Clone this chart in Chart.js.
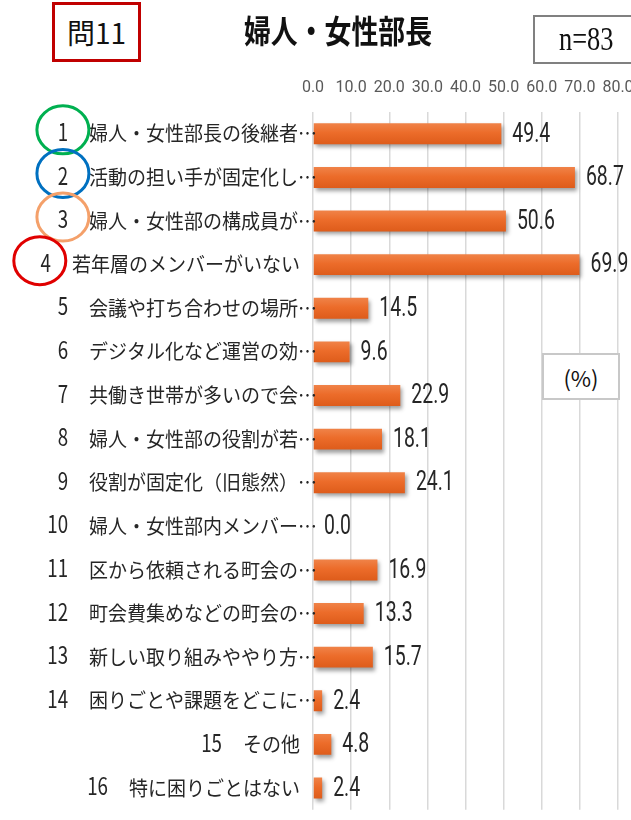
<!DOCTYPE html>
<html lang="ja">
<head>
<meta charset="utf-8">
<title>婦人・女性部長</title>
<script src="https://cdn.jsdelivr.net/npm/chart.js@4.4.1/dist/chart.umd.min.js"></script>
<style>
  html, body { margin: 0; padding: 0; background: #fff; overflow: hidden; }
  #wrap { position: relative; width: 631px; height: 820px; overflow: hidden; }
  #chart { position: absolute; left: 0; top: 0; }
  .box { position: absolute; box-sizing: border-box; background: #fff; display: flex; align-items: center; justify-content: center; color: #111; }
  #qno { left: 52px; top: 2px; width: 89px; height: 60px; border: 3px solid #c00000; font: 28px "Noto Sans CJK JP"; }
  #ttl { position: absolute; left: 208px; top: 6px; width: 260px; text-align: center; white-space: nowrap; font: bold 32px "Noto Sans CJK JP"; color: #111; transform: scaleX(0.84); }
  #num { left: 533px; top: 15px; width: 106px; height: 49px; border: 2px solid #808080; font: 33px "Liberation Serif"; justify-content: flex-start; padding-left: 24px; }
  #num span { display: inline-block; transform: scaleX(0.8); transform-origin: left center; }
  #pct { left: 542px; top: 353px; width: 78px; height: 47px; border: 2px solid #c8c8c8; font: 22px "Noto Sans CJK JP"; }
</style>
</head>
<body>
<div id="wrap">
  <canvas id="chart" width="631" height="820"></canvas>
  <div class="box" id="qno">問11</div>
  <div id="ttl">婦人・女性部長</div>
  <div class="box" id="num"><span>n=83</span></div>
  <div class="box" id="pct">(%)</div>
</div>
<script>
const itemNumbers = ["1", "2", "3", "4", "5", "6", "7", "8", "9", "10", "11", "12", "13", "14", "15", "16"];
const itemTexts = [
    "婦人・女性部長の後継者…",
    "活動の担い手が固定化し…",
    "婦人・女性部の構成員が…",
    "若年層のメンバーがいない",
    "会議や打ち合わせの場所…",
    "デジタル化など運営の効…",
    "共働き世帯が多いので会…",
    "婦人・女性部の役割が若…",
    "役割が固定化（旧態然）…",
    "婦人・女性部内メンバー…",
    "区から依頼される町会の…",
    "町会費集めなどの町会の…",
    "新しい取り組みややり方…",
    "困りごとや課題をどこに…",
    "その他",
    "特に困りごとはない"
];
const percentValues = [49.4, 68.7, 50.6, 69.9, 14.5, 9.6, 22.9, 18.1, 24.1, 0.0, 16.9, 13.3, 15.7, 2.4, 4.8, 2.4];
const axisMin = 0;
const axisMax = 80;
const axisStep = 10;

// circled items (index -> colour)
const circledItems = [0, 1, 2, 3];
const circleColors = ["#00b050", "#0070c0", "#f4a06a", "#e00000"];

const labels = itemNumbers.map((n, i) => n + "\u3000" + itemTexts[i]);

// category labels: text condensed a bit, numbers taller and narrow
const textFont = '20px "Noto Sans CJK JP"';
const textSqueeze = 0.95;
const numFont = '24px "Noto Sans CJK JP"';
const numSqueeze = 0.78;
const textRight = 300;   // right edge of untruncated text
const numGap = 21;

function barFill(c) {
    const chart = c.chart;
    if (c.type !== 'data' || !chart.scales.y) return '#ec6d2c';
    const y = chart.scales.y.getPixelForValue(c.dataIndex);
    if (!isFinite(y)) return '#ec6d2c';
    const g = chart.ctx.createLinearGradient(0, y - 11, 0, y + 11);
    g.addColorStop(0, '#f0844a');
    g.addColorStop(0.45, '#ec6c2a');
    g.addColorStop(1, '#dd5b1a');
    return g;
}

const barExtras = {
    id: 'barExtras',
    beforeDatasetsDraw(chart) {
        const ctx = chart.ctx;
        ctx.save();
        ctx.shadowColor = 'rgba(0,0,0,0.38)';
        ctx.shadowBlur = 4;
        ctx.shadowOffsetX = 2;
        ctx.shadowOffsetY = 3;
    },
    afterDatasetsDraw(chart) {
        const ctx = chart.ctx;
        ctx.restore();
        const meta = chart.getDatasetMeta(0);
        ctx.save();
        ctx.font = '27px Roboto';
        ctx.fillStyle = '#262626';
        ctx.textAlign = 'left';
        ctx.textBaseline = 'middle';
        meta.data.forEach((bar, i) => {
            ctx.save();
            ctx.translate(bar.x + 11, bar.y + 1);
            ctx.scale(0.72, 1);
            ctx.fillText(percentValues[i].toFixed(1), 0, 0);
            ctx.restore();
        });
        ctx.restore();
    },
    afterDraw(chart) {
        const ctx = chart.ctx;
        const yScale = chart.scales.y;
        const numCenters = [];
        ctx.save();
        ctx.fillStyle = '#262626';
        ctx.textBaseline = 'middle';
        itemTexts.forEach((txt, i) => {
            const y = yScale.getPixelForValue(i);
            ctx.font = textFont;
            let right = textRight;
            if (txt.endsWith('…')) right += ctx.measureText('…').width * textSqueeze * 0.9;
            const w = ctx.measureText(txt).width * textSqueeze;
            const left = right - w;
            ctx.save();
            ctx.translate(left, y);
            ctx.scale(textSqueeze, 1);
            ctx.textAlign = 'left';
            ctx.fillText(txt, 0, 0);
            ctx.restore();

            ctx.font = numFont;
            const nw = ctx.measureText(itemNumbers[i]).width * numSqueeze;
            const nx = left - numGap;
            ctx.save();
            ctx.translate(nx, y - 2);
            ctx.scale(numSqueeze, 1);
            ctx.textAlign = 'right';
            ctx.fillText(itemNumbers[i], 0, 0);
            ctx.restore();
            numCenters.push(nx - nw / 2);
        });
        ctx.lineWidth = 3;
        circledItems.forEach((idx, k) => {
            const cy = yScale.getPixelForValue(idx) - 4;
            const cx = numCenters[idx] - (idx === 3 ? 6 : 0);
            ctx.strokeStyle = circleColors[k];
            ctx.beginPath();
            ctx.ellipse(cx, cy, 26, 24, 0, 0, Math.PI * 2);
            ctx.stroke();
        });
        ctx.restore();
    }
};

new Chart(document.getElementById('chart').getContext('2d'), {
    type: 'bar',
    data: {
        labels: labels,
        datasets: [{
            data: percentValues,
            backgroundColor: barFill,
            borderWidth: 0,
            barPercentage: 0.48,
            categoryPercentage: 1
        }]
    },
    plugins: [barExtras],
    options: {
        indexAxis: 'y',
        responsive: false,
        animation: false,
        layout: { padding: { left: 0, right: 13, top: 0, bottom: 1 } },
        plugins: {
            legend: { display: false },
            title: { display: false },
            tooltip: { enabled: false }
        },
        scales: {
            x: {
                position: 'top',
                min: axisMin,
                max: axisMax,
                ticks: {
                    stepSize: axisStep,
                    padding: 14,
                    color: '#595959',
                    font: { family: 'Roboto', size: 16 },
                    callback: v => Number(v).toFixed(1)
                },
                grid: { color: '#d9d9d9', lineWidth: 1.5, drawTicks: false },
                border: { display: false },
                afterFit: s => { s.height = 112; s.paddingLeft = 0; s.paddingRight = 0; }
            },
            y: {
                ticks: {
                    color: 'rgba(0,0,0,0)',
                    font: { family: 'Noto Sans CJK JP', size: 12 },
                    autoSkip: false
                },
                grid: { display: false },
                border: { display: false },
                afterFit: s => { s.width = 313; }
            }
        }
    }
});
</script>
</body>
</html>
